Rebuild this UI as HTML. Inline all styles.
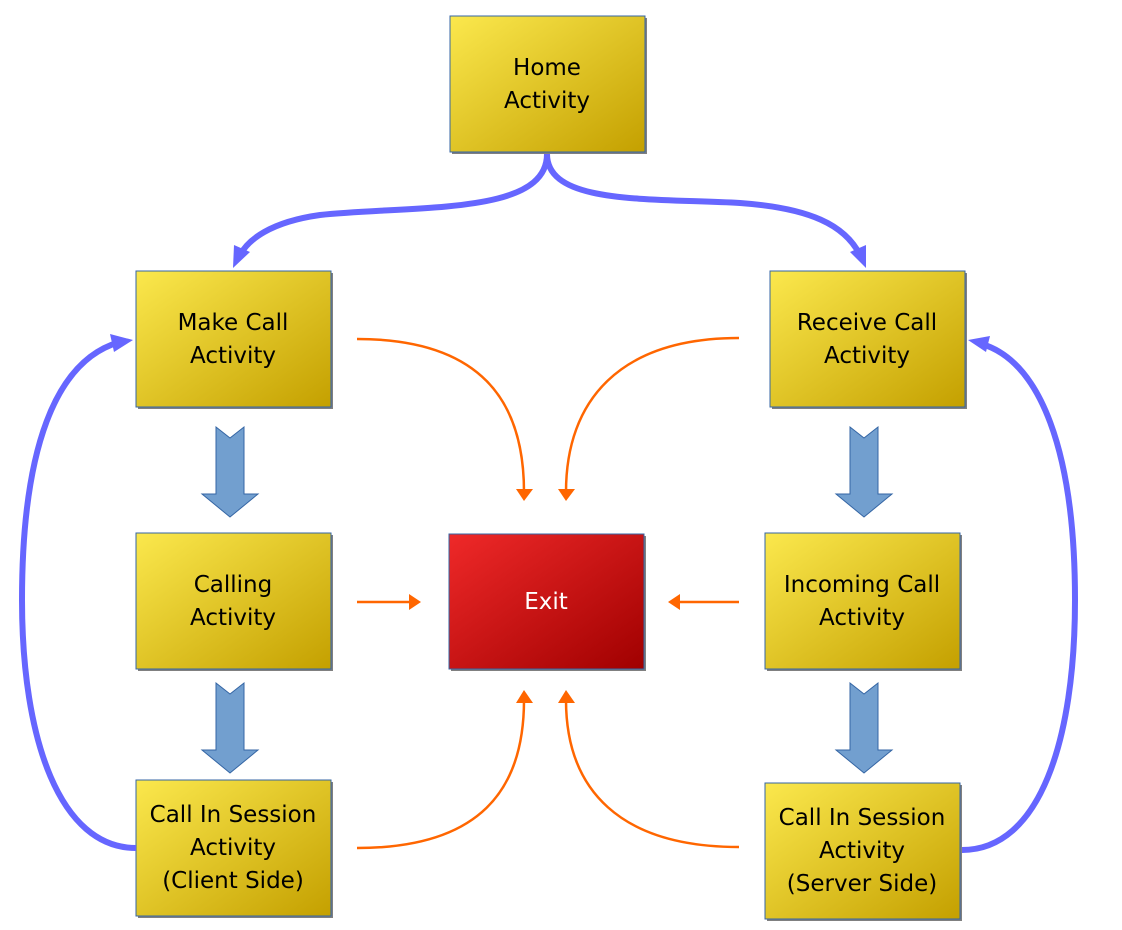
<!DOCTYPE html>
<html><head><meta charset="utf-8"><style>
html,body{margin:0;padding:0;background:#fff;}
svg{display:block;}
text{font-family:"DejaVu Sans","Liberation Sans",sans-serif;font-size:23px;text-anchor:middle;}
</style></head><body>
<svg width="1122" height="930" viewBox="0 0 1122 930" xmlns="http://www.w3.org/2000/svg">
<defs>
<linearGradient id="y" x1="0" y1="0" x2="1" y2="1">
<stop offset="0" stop-color="#fbe84d"/><stop offset="1" stop-color="#c4a000"/></linearGradient>
<linearGradient id="r" x1="0" y1="0" x2="1" y2="1">
<stop offset="0" stop-color="#ef2929"/><stop offset="1" stop-color="#a00000"/></linearGradient>
</defs>
<g stroke="#3465a4" stroke-width="1">
<rect x="452" y="18" width="195" height="136" fill="#808080" stroke="none"/>
<rect x="450" y="16" width="195" height="136" fill="url(#y)"/>
<rect x="138" y="273" width="195" height="136" fill="#808080" stroke="none"/>
<rect x="136" y="271" width="195" height="136" fill="url(#y)"/>
<rect x="772" y="273" width="195" height="136" fill="#808080" stroke="none"/>
<rect x="770" y="271" width="195" height="136" fill="url(#y)"/>
<rect x="138" y="535" width="195" height="136" fill="#808080" stroke="none"/>
<rect x="136" y="533" width="195" height="136" fill="url(#y)"/>
<rect x="451" y="536" width="195" height="135" fill="#808080" stroke="none"/>
<rect x="449" y="534" width="195" height="135" fill="url(#r)"/>
<rect x="767" y="535" width="195" height="136" fill="#808080" stroke="none"/>
<rect x="765" y="533" width="195" height="136" fill="url(#y)"/>
<rect x="138" y="782" width="195" height="136" fill="#808080" stroke="none"/>
<rect x="136" y="780" width="195" height="136" fill="url(#y)"/>
<rect x="767" y="785" width="195" height="136" fill="#808080" stroke="none"/>
<rect x="765" y="783" width="195" height="136" fill="url(#y)"/>
</g>
<g fill="#729fcf" stroke="#3465a4" stroke-width="1">
<path d="M216,427 L230,438 L244,427 L244,494 L258,494 L230,517 L202,494 L216,494 z"/>
<path d="M216,683 L230,694 L244,683 L244,750 L258,750 L230,773 L202,750 L216,750 z"/>
<path d="M850,427 L864,438 L878,427 L878,494 L892,494 L864,517 L836,494 L850,494 z"/>
<path d="M850,683 L864,694 L878,683 L878,750 L892,750 L864,773 L836,750 L850,750 z"/>
</g>
<g fill="none" stroke="#6666ff" stroke-width="6">
<path d="M547,154 C547,215 420,205 320,215 C270,222 248,240 240,255"/>
<path d="M547,154 C547,205 650,198 740,203 C810,208 845,225 860,255"/>
<path d="M136,848 C60,848 22,740 22,600 C22,450 55,360 120,342"/>
<path d="M962,850 C1040,850 1075,740 1075,600 C1075,450 1040,362 982,344"/>
</g>
<g fill="#6666ff">
<path d="M233,268 L234,245 L250,252 z"/>
<path d="M866,268 L850,252 L866,245 z"/>
<path d="M133,340 L110,334 L114,352 z"/>
<path d="M968,340 L990,336 L986,352 z"/>
</g>
<g fill="none" stroke="#ff6600" stroke-width="2.5">
<path d="M357,339 C480,339 524,400 524,492"/>
<path d="M739,338 C620,338 566,400 566,492"/>
<path d="M357,602 L412,602"/>
<path d="M739,602 L677,602"/>
<path d="M357,848 C480,848 524,790 524,700"/>
<path d="M739,847 C620,847 566,790 566,700"/>
</g>
<g fill="#ff6600">
<path d="M516,489 L533,489 L524,501 z"/>
<path d="M558,489 L575,489 L566,501 z"/>
<path d="M409,594 L409,610 L421,602 z"/>
<path d="M680,594 L680,610 L668,602 z"/>
<path d="M516,703 L533,703 L524,690 z"/>
<path d="M558,703 L575,703 L566,690 z"/>
</g>
<text x="547" y="75">Home</text><text x="547" y="108">Activity</text>
<text x="233" y="330">Make Call</text><text x="233" y="363">Activity</text>
<text x="867" y="330">Receive Call</text><text x="867" y="363">Activity</text>
<text x="233" y="592">Calling</text><text x="233" y="625">Activity</text>
<text x="546" y="609" fill="#fff">Exit</text>
<text x="862" y="592">Incoming Call</text><text x="862" y="625">Activity</text>
<text x="233" y="822">Call In Session</text><text x="233" y="855">Activity</text><text x="233" y="888">(Client Side)</text>
<text x="862" y="825">Call In Session</text><text x="862" y="858">Activity</text><text x="862" y="891">(Server Side)</text>
</svg>
</body></html>
